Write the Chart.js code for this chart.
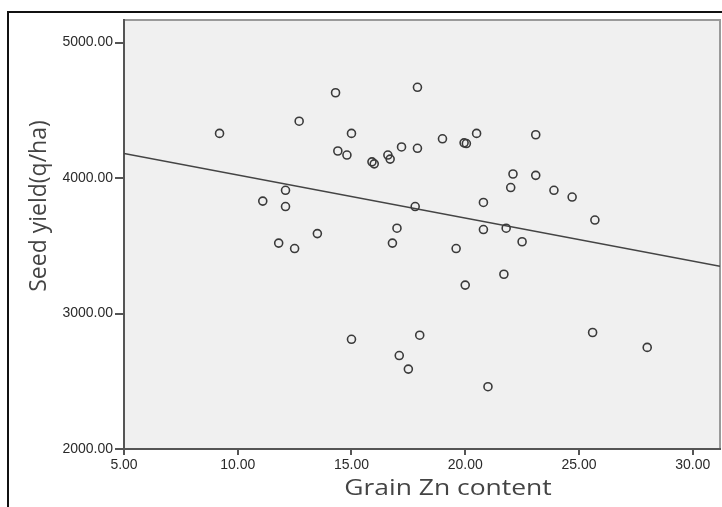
<!DOCTYPE html>
<html>
<head>
<meta charset="utf-8">
<script src="https://cdn.jsdelivr.net/npm/chart.js@4/dist/chart.umd.min.js"></script>
<style>
    html, body { margin: 0; padding: 0; background: #fff; overflow: hidden; }
    #wrap { position: relative; width: 722px; height: 507px; }
    #frame {
        position: absolute; left: 7px; top: 11px; width: 800px; height: 600px;
        border: 2px solid #111; box-sizing: border-box; pointer-events: none;
    }
    canvas { position: absolute; left: 0; top: 0; }
</style>
</head>
<body>
<div id="wrap">
    <canvas id="grafik" width="722" height="507"></canvas>
    <div id="frame"></div>
</div>
<script>
// Grain Zn content (x) dan Seed yield (y)
const znContent = [
    9.2, 12.7, 14.3, 14.4, 14.8, 15.0, 12.1, 11.1, 12.1, 13.5, 11.8, 12.5,
    17.9, 23.1, 20.5, 19.95, 20.05, 19.0, 17.9, 17.2, 16.6, 16.7, 15.9, 16.0,
    22.1, 23.1, 22.0, 23.9, 24.7, 20.8, 17.8, 25.7, 17.0, 20.8, 21.8, 22.5,
    16.8, 19.6, 21.7, 20.0, 18.0, 25.6, 28.0, 17.1, 17.5, 21.0, 15.0
];
const seedYield = [
    4330, 4420, 4630, 4200, 4170, 4330, 3910, 3830, 3790, 3590, 3520, 3480,
    4670, 4320, 4330, 4260, 4255, 4290, 4220, 4230, 4170, 4140, 4120, 4105,
    4030, 4020, 3930, 3910, 3860, 3820, 3790, 3690, 3630, 3620, 3630, 3530,
    3520, 3480, 3290, 3210, 2840, 2860, 2750, 2690, 2590, 2460, 2810
];

// Garis regresi (ujung kiri dan kanan)
const fitX = [5.0, 31.2];
const fitY = [4182, 3349];

// Tick label
const xTicks = [5, 10, 15, 20, 25, 30];
const yTicks = [2000, 3000, 4000, 5000];

const judulX = "Grain Zn content";
const judulY = "Seed yield(q/ha)";

const titik = znContent.map((x, i) => ({ x: x, y: seedYield[i] }));
const garis = fitX.map((x, i) => ({ x: x, y: fitY[i] }));

// Latar area plot + bingkai abu-abu
const latarPlot = {
    id: "latarPlot",
    beforeDraw(c) {
        const { ctx, chartArea: a } = c;
        ctx.save();
        ctx.fillStyle = "#f0f0f0";
        ctx.fillRect(a.left, a.top, a.right - a.left, a.bottom - a.top);
        ctx.strokeStyle = "#9a9a9a";
        ctx.lineWidth = 2;
        ctx.strokeRect(a.left, a.top, a.right - a.left, a.bottom - a.top);
        ctx.restore();
    }
};

// Judul sumbu (gambar asli agak melebar ke samping)
const judulSumbu = {
    id: "judulSumbu",
    afterDraw(c) {
        const ctx = c.ctx;
        ctx.save();
        ctx.fillStyle = "#444";
        ctx.textAlign = "center";
        ctx.textBaseline = "middle";
        ctx.font = "21px 'Open Sans'";
        ctx.translate(448, 489);
        ctx.scale(1.26, 1);
        ctx.fillText(judulX, 0, 0);
        ctx.restore();

        ctx.save();
        ctx.fillStyle = "#444";
        ctx.textAlign = "center";
        ctx.textBaseline = "middle";
        ctx.font = "23px 'Open Sans'";
        ctx.translate(39, 206);
        ctx.rotate(-Math.PI / 2);
        ctx.fillText(judulY, 0, 0);
        ctx.restore();
    }
};

const tickFont = { family: "'Liberation Sans', Arial, sans-serif", size: 14 };

new Chart(document.getElementById("grafik"), {
    type: "scatter",
    data: {
        datasets: [
            {
                label: "Seed yield",
                data: titik,
                pointRadius: 4,
                pointBorderWidth: 1.6,
                pointBorderColor: "#3a3a3a",
                pointBackgroundColor: "rgba(0,0,0,0)",
                showLine: false
            },
            {
                label: "Fit",
                type: "line",
                data: garis,
                borderColor: "#444",
                borderWidth: 1.6,
                pointRadius: 0,
                fill: false
            }
        ]
    },
    options: {
        responsive: false,
        animation: false,
        layout: { autoPadding: false, padding: { top: 20, right: 2, left: 0, bottom: 0 } },
        plugins: { legend: { display: false }, tooltip: { enabled: false } },
        scales: {
            x: {
                type: "linear",
                min: 5,
                max: 31.2,
                afterBuildTicks: s => { s.ticks = xTicks.map(v => ({ value: v })); },
                afterFit: s => { s.height = 58; s.paddingLeft = 0; s.paddingRight = 0; },
                ticks: {
                    color: "#2a2a2a",
                    font: tickFont,
                    padding: 2,
                    callback: v => v.toFixed(2)
                },
                grid: { drawOnChartArea: false, drawTicks: true, tickLength: 6, color: "#555", lineWidth: 2 },
                border: { display: true, color: "#555", width: 2 }
            },
            y: {
                type: "linear",
                min: 2000,
                max: 5167,
                afterBuildTicks: s => { s.ticks = yTicks.map(v => ({ value: v })); },
                afterFit: s => { s.width = 124; s.paddingTop = 0; s.paddingBottom = 0; },
                ticks: {
                    color: "#2a2a2a",
                    font: tickFont,
                    padding: 2,
                    callback: v => v.toFixed(2)
                },
                grid: { drawOnChartArea: false, drawTicks: true, tickLength: 9, color: "#555", lineWidth: 2 },
                border: { display: true, color: "#555", width: 2 }
            }
        }
    },
    plugins: [latarPlot, judulSumbu]
});
</script>
</body>
</html>
